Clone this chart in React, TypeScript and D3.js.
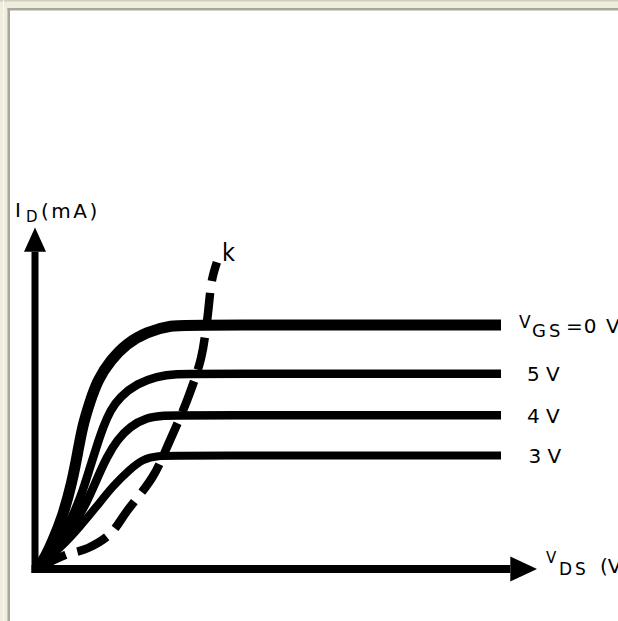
import React from "react";
import * as d3 from "d3";

// ---- data (V_DS in volts, I_D in mA, readings from the picture) ----
const vgs0: [number, number][] = [[0,0],[0.3,0.3],[0.7,1.1],[1.15,2.15],[1.55,3.55],[1.8,4.8],[2.0,5.85],[2.3,6.8],[2.65,7.75],[3.2,8.55],[3.9,9.25],[4.75,9.7],[5.75,10],[7,10],[20,10]];
const vgs5: [number, number][] = [[0,0],[0.9,0.95],[1.45,1.9],[1.95,3.0],[2.3,4.1],[2.6,5.0],[2.9,5.85],[3.2,6.5],[3.6,7.05],[4.35,7.6],[5.2,7.9],[6.05,8.0],[7,8.0],[20,8.0]];
const vgs4: [number, number][] = [[0,0],[1.05,0.95],[1.6,1.75],[2.2,2.75],[2.6,3.65],[3.05,4.6],[3.5,5.3],[4.05,5.85],[4.75,6.2],[5.45,6.3],[6.5,6.3],[20,6.3]];
const vgs3: [number, number][] = [[0,0],[1.15,0.95],[1.9,1.75],[2.6,2.55],[3.3,3.4],[4.05,4.1],[4.6,4.5],[5.2,4.65],[6.2,4.65],[20,4.65]];
const kCurve: [number, number][] = [[0,0],[1.25,0.57],[2.24,0.86],[3.18,1.43],[3.91,2.37],[5.03,3.8],[5.76,5.27],[6.54,7.02],[7.1,8.65],[7.35,10.12],[7.57,11.84],[7.78,12.57]];
const curveLabels = ["5 V", "4 V", "3 V"];
const curveLevels = [8.0, 6.3, 4.65];

const W = 618, H = 621;
const x = d3.scaleLinear().domain([0, 20]).range([36, 501]);
const y = d3.scaleLinear().domain([0, 10]).range([569, 325]);
const line = d3.line<[number, number]>().x(d => x(d[0])).y(d => y(d[1])).curve(d3.curveBasis);
const kLine = d3.line<[number, number]>().x(d => x(d[0])).y(d => y(d[1])).curve(d3.curveCatmullRom.alpha(0.5));

const FONT = "DejaVu Sans, Verdana, sans-serif";

export default function App() {
  const x0 = x(0) - 1; // y-axis position
  const y0 = y(0);     // x-axis position
  const xEnd = x(20.4), xTip = x(21.55);
  const yEnd = y(13.0), yTip = y(14.0);
  const series = [
    { d: vgs0, w: 11 },
    { d: vgs5, w: 8.5 },
    { d: vgs4, w: 8.5 },
    { d: vgs3, w: 8 },
  ];
  return (
    <svg width={W} height={H} style={{ position: "absolute", left: 0, top: 0 }} xmlns="http://www.w3.org/2000/svg">
      <rect x={0} y={0} width={W} height={H} fill="#ffffff" />
      <rect x={0} y={0} width={W} height={9} fill="#EFEDE0" />
      <rect x={0} y={0} width={8} height={H} fill="#EFEDE0" />
      <rect x={0} y={0} width={W} height={1.5} fill="#D2CEBD" />
      <rect x={3} y={0} width={1} height={H} fill="#FAF9F3" />
      <rect x={7.5} y={8} width={W} height={2.5} fill="#A9A797" />
      <rect x={7.5} y={8} width={2.5} height={H} fill="#A9A797" />

      {/* axes */}
      <line x1={x0} y1={y0 + 4} x2={x0} y2={yEnd} stroke="#000" strokeWidth={7} />
      <polygon points={`${x0},${yTip} ${x0 - 11},${yEnd} ${x0 + 11},${yEnd}`} fill="#000" />
      <line x1={x0 - 3.5} y1={y0} x2={xEnd} y2={y0} stroke="#000" strokeWidth={8} />
      <polygon points={`${xTip},${y0} ${xEnd},${y0 - 12.5} ${xEnd},${y0 + 12.5}`} fill="#000" />

      {series.map((s, i) => (
        <path key={i} d={line(s.d)!} fill="none" stroke="#000" strokeWidth={s.w} strokeLinejoin="round" />
      ))}
      <path d={kLine(kCurve)!} fill="none" stroke="#000" strokeWidth={8.5} strokeDasharray="33 12" />

      {/* labels */}
      <text x={15} y={217} fontFamily={FONT} fontSize={20}>I</text>
      <text x={26} y={222} fontFamily={FONT} fontSize={15}>D</text>
      <text x={41} y={218} fontFamily={FONT} fontSize={20} letterSpacing={2.5}>(mA)</text>

      <text x={222} y={261} fontFamily={FONT} fontSize={25} textLength={13} lengthAdjust="spacingAndGlyphs">k</text>

      <text x={519} y={328} fontFamily={FONT} fontSize={17}>V</text>
      <text x={532} y={337} fontFamily={FONT} fontSize={18} letterSpacing={3}>GS</text>
      <text x={566} y={333} fontFamily={FONT} fontSize={20} letterSpacing={1}>=0</text>
      <text x={606} y={333} fontFamily={FONT} fontSize={20}>V</text>

      {curveLabels.map((t, i) => (
        <text key={t} x={527 + (i === 2 ? 1.5 : 0)} y={y(curveLevels[i]) + 7.5} fontFamily={FONT} fontSize={20}>{t}</text>
      ))}

      <text x={546} y={563} fontFamily={FONT} fontSize={15}>V</text>
      <text x={559} y={575} fontFamily={FONT} fontSize={17} letterSpacing={3}>DS</text>
      <text x={600} y={573} fontFamily={FONT} fontSize={20}>(V</text>
    </svg>
  );
}
